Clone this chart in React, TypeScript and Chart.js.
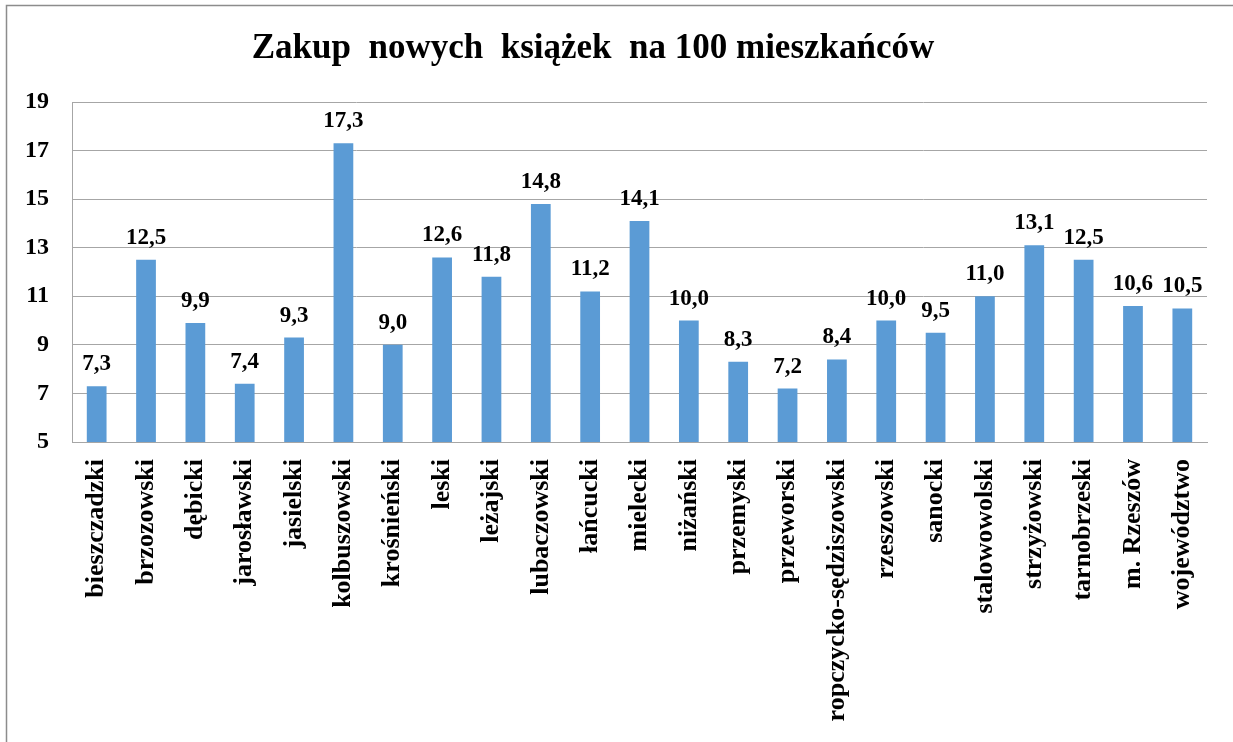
import React, { useEffect, useRef } from "react";
import { Chart, registerables } from "chart.js";

Chart.register(...registerables);

const TITLE = "Zakup  nowych  książek  na 100 mieszkańców";

const categories = [
  "bieszczadzki",
  "brzozowski",
  "dębicki",
  "jarosławski",
  "jasielski",
  "kolbuszowski",
  "krośnieński",
  "leski",
  "leżajski",
  "lubaczowski",
  "łańcucki",
  "mielecki",
  "niżański",
  "przemyski",
  "przeworski",
  "ropczycko-sędziszowski",
  "rzeszowski",
  "sanocki",
  "stalowowolski",
  "strzyżowski",
  "tarnobrzeski",
  "m. Rzeszów",
  "województwo",
];

const values = [
  7.3, 12.5, 9.9, 7.4, 9.3, 17.3, 9.0, 12.6, 11.8, 14.8, 11.2, 14.1, 10.0, 8.3,
  7.2, 8.4, 10.0, 9.5, 11.0, 13.1, 12.5, 10.6, 10.5,
];

const yMin = 5;
const yMax = 19;
const yStep = 2;

const FONT = "'Liberation Serif', 'Times New Roman', serif";
const BAR_COLOR = "#5B9BD5";
const GRID_COLOR = "#a6a6a6";
const FRAME_COLOR = "#8c8c8c";

const fmt = (v: number) => v.toFixed(1).replace(".", ",");

const decorPlugin = {
  id: "decor",
  afterDatasetsDraw(chart: any) {
    const ctx = chart.ctx;
    const meta = chart.getDatasetMeta(0);
    ctx.save();
    ctx.font = `bold 23px ${FONT}`;
    ctx.fillStyle = "#000";
    ctx.textAlign = "center";
    ctx.textBaseline = "alphabetic";
    meta.data.forEach((el: any, i: number) => {
      ctx.fillText(fmt(values[i]), el.x, el.y - 16);
    });
    ctx.restore();
  },
  afterDraw(chart: any) {
    const ctx = chart.ctx;
    ctx.save();
    ctx.font = `bold 35px ${FONT}`;
    ctx.fillStyle = "#000";
    ctx.textAlign = "center";
    ctx.textBaseline = "alphabetic";
    ctx.fillText(TITLE, 593, 58);
    ctx.strokeStyle = FRAME_COLOR;
    ctx.lineWidth = 1.5;
    ctx.strokeRect(6.5, 5.5, 1400, 900);
    ctx.restore();
  },
};

export default function App() {
  const canvasRef = useRef<HTMLCanvasElement | null>(null);

  useEffect(() => {
    if (!canvasRef.current) return;
    const chart = new Chart(canvasRef.current, {
      type: "bar",
      data: {
        labels: categories,
        datasets: [
          {
            data: values,
            backgroundColor: BAR_COLOR,
            borderWidth: 0,
            categoryPercentage: 1,
            barPercentage: 0.4,
          },
        ],
      },
      options: {
        responsive: false,
        animation: false,
        devicePixelRatio: 1,
        layout: { padding: { top: 102, right: 26, left: 0, bottom: 0 } },
        plugins: {
          legend: { display: false },
          title: { display: false },
          tooltip: { enabled: false },
        },
        scales: {
          x: {
            grid: { display: false, drawTicks: false },
            border: { display: true, color: GRID_COLOR, width: 1 },
            ticks: {
              autoSkip: false,
              minRotation: 90,
              maxRotation: 90,
              padding: 17,
              color: "#000",
              font: { family: FONT, size: 26, weight: "bold" },
            },
            afterFit: (axis: any) => {
              axis.height = 300;
            },
          },
          y: {
            min: yMin,
            max: yMax,
            grid: { color: GRID_COLOR, drawTicks: false, lineWidth: 1 },
            border: { display: true, color: GRID_COLOR, width: 1 },
            ticks: {
              stepSize: yStep,
              padding: 23,
              color: "#000",
              font: { family: FONT, size: 24, weight: "bold" },
            },
            afterFit: (axis: any) => {
              axis.width = 72;
            },
          },
        },
      },
      plugins: [decorPlugin],
    });
    return () => chart.destroy();
  }, []);

  return (
    <div
      style={{
        position: "absolute",
        left: 0,
        top: 0,
        width: 1233,
        height: 742,
        background: "#fff",
        overflow: "hidden",
      }}
    >
      <canvas
        ref={canvasRef}
        width={1233}
        height={742}
        style={{ width: 1233, height: 742, display: "block" }}
      />
    </div>
  );
}
